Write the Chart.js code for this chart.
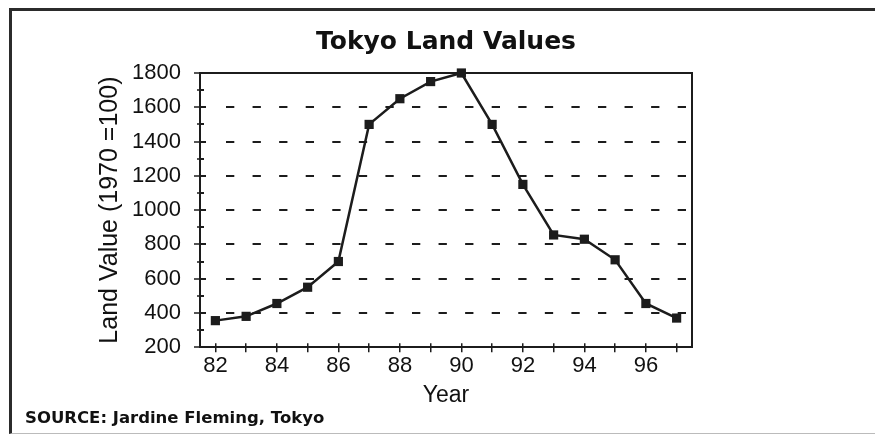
<!DOCTYPE html>
<html><head><meta charset="utf-8">
<script src="https://cdn.jsdelivr.net/npm/chart.js@4.4.0/dist/chart.umd.min.js"></script>
<style>
html,body{margin:0;padding:0;background:#fff;overflow:hidden;}
#wrap{position:relative;width:875px;height:436px;overflow:hidden;}
#frame{position:absolute;left:9px;top:8px;width:900px;height:422px;border-left:3px solid #2b2b2b;border-top:3px solid #2b2b2b;border-bottom:1px solid #bbb;pointer-events:none;}
canvas{position:absolute;left:0;top:0;}
</style></head><body>
<div id="wrap"><canvas id="c" width="875" height="436"></canvas><div id="frame"></div></div>
<script>
// ---- data ----
const years = ['82','83','84','85','86','87','88','89','90','91','92','93','94','95','96','97'];
const landValues = [355, 380, 455, 550, 700, 1500, 1650, 1750, 1800, 1500, 1150, 855, 830, 710, 455, 370];
const xTickLabels = ['82','84','86','88','90','92','94','96'];
const yTickLabels = [200, 400, 600, 800, 1000, 1200, 1400, 1600, 1800];

// ---- style ----
const INK = '#1c1c1c';
const TXT = '#111';
const majorDash = [5, 20];
for (let k = 0; k < 19; k++) { majorDash.push(8.3, 18.27); }
const isMinor = c => c && c.tick && !yTickLabels.includes(c.tick.value);

new Chart(document.getElementById('c'), {
  type: 'line',
  data: {
    labels: years,
    datasets: [{
      data: landValues,
      borderColor: INK,
      borderWidth: 2.5,
      pointStyle: 'rect',
      pointRadius: 6.5,
      pointBackgroundColor: INK,
      pointBorderColor: INK,
      pointBorderWidth: 0,
      tension: 0,
      clip: false
    }]
  },
  options: {
    responsive: false,
    devicePixelRatio: 1,
    animation: false,
    layout: { padding: { left: 25, right: 183, top: 0, bottom: 0 } },
    plugins: {
      legend: { display: false },
      tooltip: { enabled: false },
      title: {
        display: true, text: 'Tokyo Land Values', fullSize: false, color: TXT,
        font: { family: 'DejaVu Sans', size: 25, weight: 'bold', lineHeight: 1.2 },
        padding: { top: 27, bottom: 16 }
      },
      subtitle: {
        display: true, position: 'bottom', align: 'start', text: 'SOURCE: Jardine Fleming, Tokyo', color: TXT,
        font: { family: 'DejaVu Sans', size: 16.5, weight: 'bold', lineHeight: 1.2 },
        padding: { top: 0, bottom: 7 }
      }
    },
    scales: {
      x: {
        type: 'category', offset: true,
        afterFit: s => { s.height = 62; },
        grid: { offset: false, drawOnChartArea: true, color: INK, lineWidth: 1.5, tickLength: 5, tickColor: INK, tickWidth: 1.5 },
        border: {
          display: true, color: INK, width: 2,
          dash: c => { const a = c.chart.chartArea; const h = a ? a.bottom - a.top : 274; return [0, h - 4, 4, 3000]; }
        },
        ticks: {
          autoSkip: false, maxRotation: 0, minRotation: 0, padding: 1, color: TXT,
          font: { family: 'Liberation Sans', size: 22 },
          callback: (v, i) => xTickLabels.includes(years[i]) ? years[i] : ''
        },
        title: { display: true, text: 'Year', color: TXT, font: { family: 'Liberation Sans', size: 23 }, padding: { top: 0, bottom: 0 } }
      },
      y: {
        type: 'linear', min: 200, max: 1800,
        afterFit: s => { s.width = 175; },
        ticks: {
          stepSize: 100, autoSkip: false, padding: 13, color: TXT,
          font: { family: 'Liberation Sans', size: 22 },
          callback: v => yTickLabels.includes(v) ? String(v) : ''
        },
        grid: {
          color: INK, lineWidth: 2, tickLength: 6, tickColor: INK, tickWidth: 1.5,
          tickBorderDash: c => isMinor(c) ? [0, 3, 3, 50] : []
        },
        border: {
          display: true, color: INK, width: 2,
          dash: c => isMinor(c) ? [3, 3000] : majorDash
        },
        title: { display: true, text: 'Land Value (1970 =100)', color: TXT, font: { family: 'Liberation Sans', size: 25 }, padding: { top: 70, bottom: 0 } }
      },
      x2: {
        type: 'category', position: 'top', display: true,
        grid: { drawOnChartArea: false, drawTicks: false },
        ticks: { display: false },
        border: { display: true, color: INK, width: 2 }
      },
      y2: {
        type: 'linear', position: 'right', min: 200, max: 1800, display: true,
        grid: { drawOnChartArea: false, drawTicks: false },
        ticks: { display: false },
        border: { display: true, color: INK, width: 2 }
      }
    }
  }
});
</script>
</body></html>
